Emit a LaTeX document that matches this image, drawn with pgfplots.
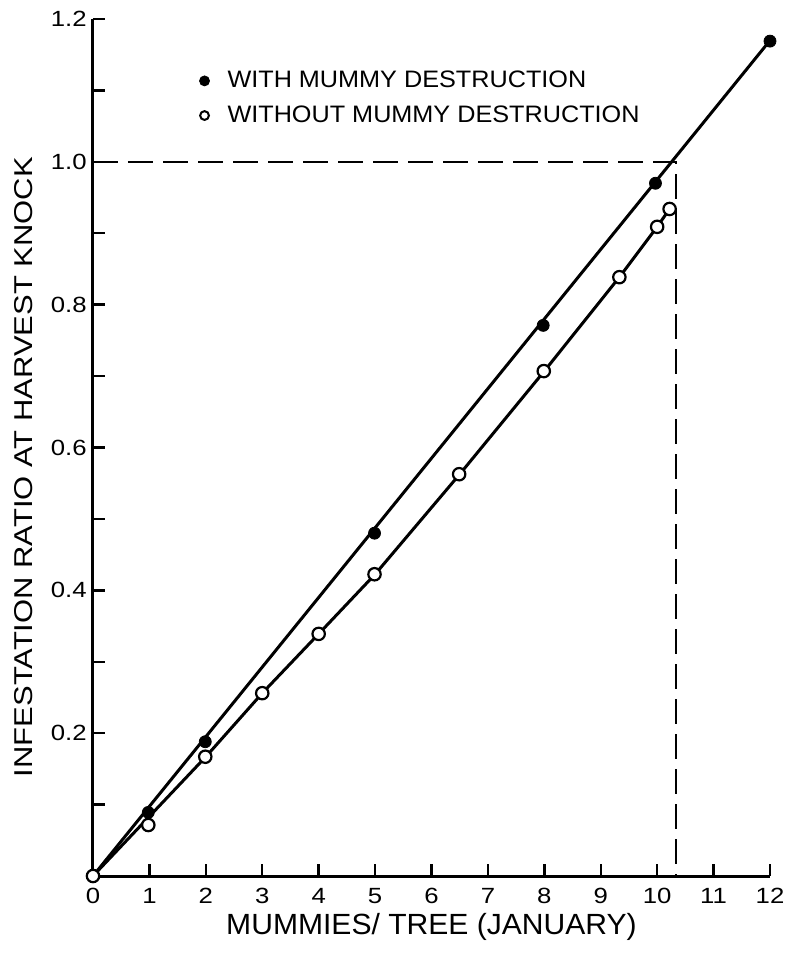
\documentclass[border=0pt]{standalone}
\usepackage{fontspec}
\setmainfont{Liberation Sans}
\newfontfamily\ylabfont[FakeStretch=1.2]{Liberation Sans}
\newfontfamily\xlabfont[FakeStretch=1.03]{Liberation Sans}
\newfontfamily\legfont[FakeStretch=1.06]{Liberation Sans}
\newfontfamily\tickfont[FakeStretch=1.17]{Liberation Sans}
\newcommand\tk[1]{{\tickfont\fontsize{11}{12}\selectfont #1}}
\usepackage{pgfplots}
\pgfplotsset{compat=1.18}
\usetikzlibrary{calc}
\begin{document}
\begin{tikzpicture}
\begin{axis}[name=ax, scale only axis, width=338.5pt, height=428.5pt,
  xmin=0, xmax=12, ymin=0, ymax=1.2,
  axis lines=left, axis line style={-, line width=1.5pt},
  tick align=inside, major tick length=6pt, minor tick length=6pt,
  every tick/.style={line width=1.2pt, black},
  minor tick style={line width=1.2pt, black},
  major tick style={line width=1.2pt, black},
  xtick={0,1,2,3,4,5,6,7,8,9,10,11,12},
  xticklabels={\tk{0},\tk{1},\tk{2},\tk{3},\tk{4},\tk{5},\tk{6},\tk{7},\tk{8},\tk{9},\tk{10},\tk{11},\tk{12}},
  ytick={0.2,0.4,0.6,0.8,1.0,1.2},
  yticklabels={\tk{0.2},\tk{0.4},\tk{0.6},\tk{0.8},\tk{1.0},\tk{1.2}},
  minor ytick={0.1,0.3,0.5,0.7,0.9,1.1},
  /pgf/number format/assume math mode=true,
  xticklabel style={yshift=-4pt, inner sep=2pt},
  yticklabel style={inner sep=3pt},
  xlabel={MUMMIES/ TREE (JANUARY)},
  ylabel={INFESTATION RATIO AT HARVEST KNOCK},
  xlabel style={font=\xlabfont\fontsize{14.6}{14.6}\selectfont, at={(axis description cs:0.5,0)}, anchor=center, yshift=-25.5pt},
  ylabel style={font=\ylabfont\fontsize{12.9}{12.9}\selectfont, at={(axis description cs:-0.102,0.477)}, anchor=center},
  clip=false,
  legend style={draw=none, fill=none, at={(axis description cs:0.155,0.942)}, anchor=north west,
    font=\legfont\fontsize{11.9}{11.9}\selectfont, row sep=5.5pt, inner sep=0pt,
    nodes={inner sep=1pt}},
  legend cell align=left,
  legend image code/.code={\draw[#1] plot coordinates {(0pt,0pt)}; \path (-2.6pt,0pt) (10pt,0pt);},
]
\addlegendimage{only marks, mark=*, mark size=2.5pt, black}
\addlegendentry{WITH MUMMY DESTRUCTION}
\addlegendimage{only marks, mark=o, mark size=2.2pt, black, line width=1pt}
\addlegendentry{WITHOUT MUMMY DESTRUCTION}

\addplot[forget plot, black, line width=1.2pt, dash pattern=on 12.5pt off 5pt] coordinates {(0,1.0) (10.33,1.0) (10.33,0)};

\addplot[forget plot, black, line width=1.5pt] coordinates {(0,0) (12,1.17)};
\addplot[forget plot, black, line width=1.5pt] coordinates {
(0,0) (2,0.167) (3,0.256) (4,0.339) (5,0.4225) (6.5,0.5626) (8,0.707) (9.33,0.8385) (10,0.909) (10.22,0.934)};

\addplot[forget plot, only marks, mark=*, mark size=3pt, black] coordinates {
(0.98,0.089) (1.99,0.188) (4.99,0.480) (7.98,0.771) (9.97,0.970) (12,1.169)};
\addplot[forget plot, only marks, mark=*, mark size=3.1pt, black, line width=1.1pt, mark options={fill=white}] coordinates {
(0,0) (0.98,0.0714) (1.99,0.167) (3,0.256) (4,0.339) (4.99,0.4225) (6.49,0.5626) (7.99,0.707) (9.33,0.8385) (10,0.909) (10.22,0.934)};
\end{axis}
\pgfresetboundingbox
\path[use as bounding box] ($(ax.south west)+(-46.5pt,-38.5pt)$) rectangle ($(ax.north east)+(9pt,9.5pt)$);
\end{tikzpicture}
\end{document}
